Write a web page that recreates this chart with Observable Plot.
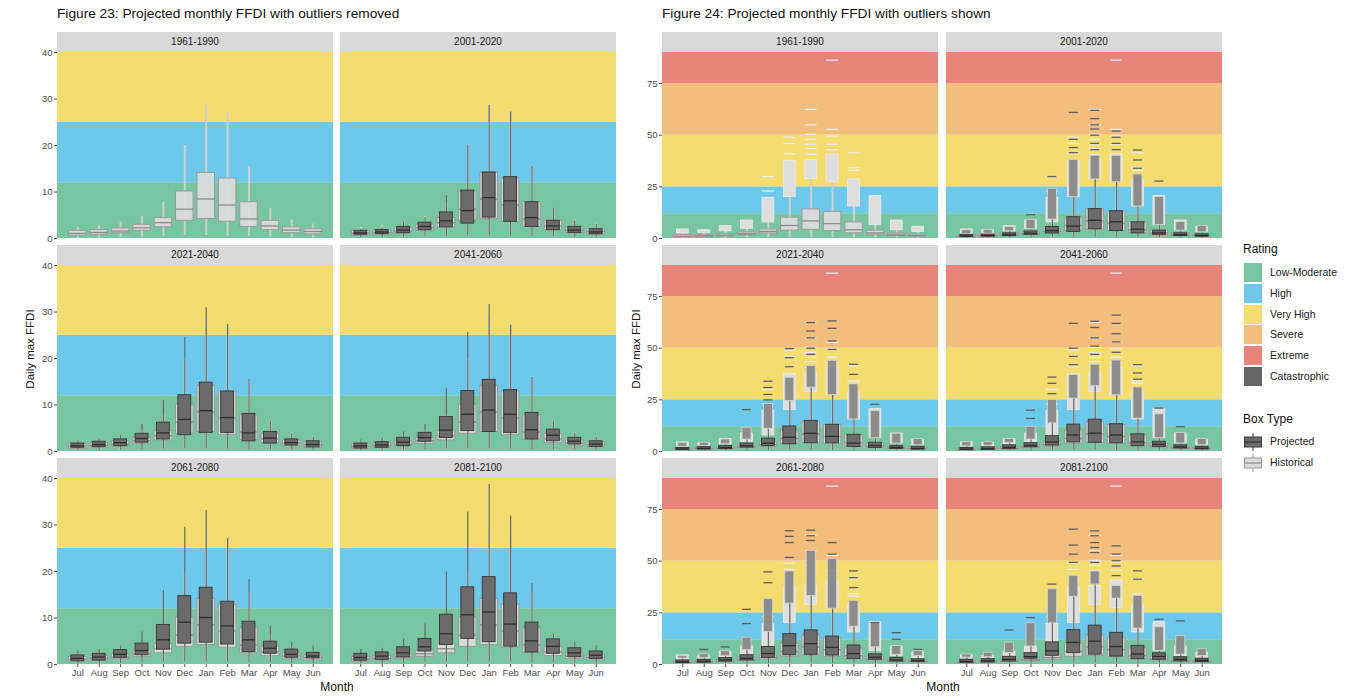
<!DOCTYPE html>
<html><head><meta charset="utf-8">
<script src="https://cdn.jsdelivr.net/npm/d3@7"></script>
<script src="https://cdn.jsdelivr.net/npm/@observablehq/plot@0.6"></script>
<style>
body{margin:0;background:#fff;font-family:"Liberation Sans",Arial,Helvetica,sans-serif;}
#root{position:relative;width:1366px;height:697px;overflow:hidden;background:#fff;}
.strip{position:absolute;background:#d9d9d9;height:20px;line-height:20px;text-align:center;font-size:10px;color:#1a1a1a;}
.title{position:absolute;font-size:13.7px;color:#111;white-space:nowrap;}
.ytitle{position:absolute;width:200px;text-align:center;font-size:11.5px;color:#111;transform:rotate(-90deg);white-space:nowrap;}
.xtitle{position:absolute;width:100px;text-align:center;font-size:12px;color:#111;}
.lg{position:absolute;font-size:10.5px;color:#1a1a1a;white-space:nowrap;}
.lgt{position:absolute;font-size:12px;color:#111;white-space:nowrap;}
</style></head>
<body><div id="root"></div>
<script>
// ---------- data ----------
const months = ["Jul","Aug","Sep","Oct","Nov","Dec","Jan","Feb","Mar","Apr","May","Jun"];
const periods = ["1961-1990","2001-2020","2021-2040","2041-2060","2061-2080","2081-2100"];
const projPeriods = ["2001-2020","2021-2040","2041-2060","2061-2080","2081-2100"];

const ratings = ["Low-Moderate","High","Very High","Severe","Extreme","Catastrophic"];
const ratingLo = [0, 12, 25, 50, 75, 100];
const ratingHi = [12, 25, 50, 75, 100, 200];
const ratingColors = ["#78c6a1","#6dc8ea","#f5dc6e","#f2be7e","#e8847a","#666666"];

// Historical (1961-1990) box statistics, by month
const histLo  = [0.1, 0.1, 0.2, 0.3, 0.5, 0.6, 0.6, 0.5, 0.4, 0.3, 0.2, 0.1];
const histQ1  = [0.6, 0.8, 1.15, 1.65, 2.4, 3.8, 4.2, 3.6, 2.5, 1.8, 1.15, 0.9];
const histMed = [1.1, 1.3, 1.6, 2.3, 3.4, 6.3, 8.5, 7.2, 4.2, 2.7, 1.8, 1.5];
const histQ3  = [1.65, 1.8, 2.15, 2.95, 4.4, 10.1, 14.1, 12.9, 7.8, 3.8, 2.4, 2.0];
const histHi  = [2.4, 2.7, 3.5, 4.7, 7.8, 20, 28.8, 27.3, 15.5, 6.5, 4, 3.1];
// Historical outliers: densely packed up to this value, then sparse values
const histDenseTop = [4.4, 4, 6, 8.7, 19.7, 37.5, 38, 40.7, 28.6, 20.5, 8.7, 5.7];
const histSparse = [[], [], [], [], [23, 30], [41, 46, 49], [40.7, 43.5, 45.6, 48, 50.4, 55, 62.5],
  [43, 45.6, 49.6, 52.8, 86.3], [33, 34.2, 41.5], [], [], []];

// Projected box statistics, one row per projected period
const projLo = [
  [0.1, 0.1, 0.2, 0.3, 0.5, 0.6, 0.6, 0.5, 0.4, 0.3, 0.2, 0.1],
  [0.1, 0.1, 0.2, 0.3, 0.5, 0.6, 0.6, 0.5, 0.4, 0.3, 0.2, 0.1],
  [0.1, 0.1, 0.2, 0.3, 0.5, 0.6, 0.6, 0.5, 0.4, 0.3, 0.2, 0.1],
  [0.1, 0.1, 0.2, 0.3, 0.5, 0.6, 0.6, 0.5, 0.4, 0.3, 0.2, 0.1],
  [0.1, 0.1, 0.2, 0.3, 0.5, 0.6, 0.6, 0.5, 0.4, 0.3, 0.2, 0.1]];
const projQ1 = [
  [0.8, 0.95, 1.15, 1.8, 2.4, 3.2, 4.5, 3.6, 2.5, 1.8, 1.2, 0.9],
  [0.8, 0.95, 1.15, 1.9, 2.6, 3.5, 4.0, 4.0, 2.2, 1.7, 1.3, 0.9],
  [0.65, 0.8, 1.15, 2.1, 2.9, 4.4, 4.2, 4.0, 2.6, 2.2, 1.5, 1.0],
  [0.7, 0.85, 1.45, 2.0, 3.2, 4.5, 4.7, 4.3, 2.7, 2.3, 1.45, 1.3],
  [0.8, 1.0, 1.55, 2.8, 4.2, 5.5, 4.8, 3.85, 2.6, 2.3, 1.55, 1.2]];
const projMed = [
  [1.2, 1.4, 1.8, 2.6, 3.8, 6.0, 8.8, 8.1, 4.5, 2.7, 1.8, 1.4],
  [1.2, 1.5, 1.9, 2.8, 4.0, 6.9, 8.8, 7.3, 4.0, 2.9, 1.9, 1.5],
  [1.2, 1.4, 2.0, 3.0, 4.6, 8.0, 8.9, 8.0, 4.7, 3.5, 2.2, 1.6],
  [1.3, 1.6, 2.2, 3.0, 5.3, 9.1, 10.1, 8.3, 5.3, 3.5, 2.2, 1.8],
  [1.5, 1.8, 2.5, 3.8, 6.6, 10.7, 11.3, 8.7, 5.1, 3.9, 2.5, 2.0]];
const projQ3 = [
  [1.65, 1.8, 2.5, 3.4, 5.6, 10.3, 14.2, 13.2, 7.8, 3.8, 2.5, 2.0],
  [1.7, 2.1, 2.6, 3.8, 6.2, 12.1, 14.8, 12.9, 8.1, 4.2, 2.6, 2.2],
  [1.7, 2.0, 2.95, 4.0, 7.4, 13.0, 15.4, 13.2, 8.3, 4.7, 2.95, 2.2],
  [1.95, 2.3, 3.1, 4.5, 8.5, 14.7, 16.5, 13.5, 9.2, 4.9, 3.2, 2.5],
  [2.3, 2.6, 3.7, 5.5, 10.7, 16.6, 18.8, 15.3, 9.0, 5.4, 3.5, 2.8]];
const projHi = [
  [2.0, 2.3, 3.5, 4.5, 9.2, 20, 28.6, 27.2, 15.5, 6.5, 3.8, 3.0],
  [2.3, 2.7, 3.5, 5.8, 11, 24.5, 30.9, 27.3, 15.5, 6.4, 3.8, 3.0],
  [2.5, 2.8, 4.2, 5.8, 13.6, 25.6, 31.6, 27.2, 15.9, 6.4, 3.9, 3.0],
  [2.9, 3.2, 4.0, 7.0, 15.8, 29.5, 33.1, 27.0, 18.3, 8.3, 4.7, 4.0],
  [3.3, 3.5, 5.5, 8.7, 19.9, 32.8, 38.7, 31.9, 17.4, 6.6, 4.8, 4.1]];
const projDenseTop = [
  [4, 4.2, 5.5, 9, 24, 38, 40, 40, 31, 20, 8, 6],
  [4.2, 4.2, 5.8, 11.5, 23, 35.7, 41.4, 43.8, 32.5, 19.5, 8.6, 6],
  [4.5, 4.5, 6, 12, 25, 37, 42, 44, 31, 18, 9, 6],
  [4.1, 5, 6.5, 13, 31.6, 45, 55, 51, 30.8, 20, 9, 6.5],
  [4.9, 5.7, 10.6, 20, 36.4, 42.9, 45, 38, 33.2, 18, 13.8, 7.4]];
const projSparse = [
  [[], [], [], [11.5], [30], [41.5, 44, 48, 61], [43, 46, 50, 53, 55, 58, 62], [43, 46, 49, 52], [34, 38, 42.8], [27.8], [], []],
  [[], [], [], [20.3], [25, 27.6, 31, 34], [41, 45.4, 49.8], [47, 50, 55, 58.3, 62.4], [49.4, 53.5, 59.6, 63.2], [37.3, 42.2], [22.8], [], []],
  [[], [], [], [16, 20], [28, 33, 36], [42, 46, 50, 62], [47, 51, 55, 60, 63], [48, 53, 57, 62, 66], [35, 38, 42], [21], [12], []],
  [[], [7.3], [8.5], [19.8, 26.7], [39.6, 44.8], [51.8, 59, 62, 64.7], [60, 62.3, 65], [53.4, 59], [37.2, 42, 45.3], [20.3], [12.2, 15.4], [7.3]],
  [[], [], [16.7], [22.7], [38.9], [49.4, 53.4, 57.8, 65.5], [49.4, 54.2, 56.6, 59, 62.3, 64.7], [43, 47.7, 50.2, 53.4, 57.4], [41.3, 45.3], [21.9], [21.1], []]];

const leftTicks = [0, 10, 20, 30, 40];
const rightTicks = [0, 25, 50, 75];

// ---------- helpers ----------
const root = document.getElementById("root");
function place(el, left, top) {
  el.style.position = "absolute"; el.style.left = left + "px"; el.style.top = top + "px";
  root.appendChild(el); return el;
}
function textDiv(cls, text, left, top, extra) {
  const d = document.createElement("div"); d.className = cls; d.textContent = text;
  if (extra) Object.assign(d.style, extra);
  return place(d, left, top);
}

const bands = ratings.map((r, i) => ({rating: r, lo: ratingLo[i], hi: ratingHi[i]}));
const monthIdx = months.map((m, i) => i + 1);

function rowsFrom(lo, q1, med, q3, hi, top) {
  return months.map((m, i) => ({x: i + 1, lo: lo[i], q1: q1[i], med: med[i], q3: q3[i], hi: hi[i], top: top[i]}));
}
function outsFrom(sparse) {
  return sparse.flatMap((vs, i) => vs.map(v => ({x: i + 1, v})));
}
const histRows = rowsFrom(histLo, histQ1, histMed, histQ3, histHi, histDenseTop);
const histOuts = outsFrom(histSparse);

function boxMarks(rows, outs, o, showOut) {
  const m = [];
  m.push(Plot.ruleX(rows, {x: "x", y1: "lo", y2: "hi", stroke: o.whisker, strokeWidth: o.whiskerW}));
  if (showOut) {
    m.push(Plot.rect(rows, {x1: d => d.x - o.ow / 2, x2: d => d.x + o.ow / 2, y1: "hi", y2: "top",
      fill: o.outFill, stroke: o.outEdge, strokeWidth: 0.8}));
    m.push(Plot.ruleY(outs, {y: "v", x1: d => d.x - o.ow / 2, x2: d => d.x + o.ow / 2, stroke: o.outStroke, strokeWidth: 1.3}));
  }
  m.push(Plot.rect(rows, {x1: d => d.x - o.w / 2, x2: d => d.x + o.w / 2, y1: "q1", y2: "q3",
    fill: o.fill, fillOpacity: o.fillOpacity, stroke: o.stroke, strokeWidth: 1}));
  m.push(Plot.ruleY(rows, {y: "med", x1: d => d.x - o.w / 2, x2: d => d.x + o.w / 2, stroke: o.med, strokeWidth: 1.3}));
  return m;
}
const histStyle = {w: 0.82, ow: 0.55, whisker: "#cfcfcf", whiskerW: 2, fill: "#dcdcdc", fillOpacity: 0.92,
  stroke: "#9a9a9a", med: "#8a8a8a", outFill: "#dedede", outEdge: "#ececec", outStroke: "#ececec"};
const projStyle = {w: 0.6, ow: 0.42, whisker: "#6a6a6a", whiskerW: 1.2, fill: "#6b6b6b", fillOpacity: 1,
  stroke: "#3d3d3d", med: "#2e2e2e", outFill: "#8c8c8c", outEdge: "#d4d4d4", outStroke: "#5e5e5e"};

const colsLeft = [57, 340], colsRight = [662, 946];
const stripTops = [32, 245, 458];
const PW = 276, PH = 186;

function panel(fig, pIndex) {
  const right = fig === 2;
  const row = Math.floor(pIndex / 2), col = pIndex % 2;
  const x0 = (right ? colsRight : colsLeft)[col];
  const st = stripTops[row];
  const showY = col === 0, showX = row === 2;
  const mL = showY ? 26 : 0, mB = showX ? 22 : 0;
  const yMax = right ? 90 : 40;

  textDiv("strip", periods[pIndex], x0, st, {width: PW + "px"});

  const marks = [Plot.rect(bands, {y1: "lo", y2: "hi", fill: "rating", clip: true})];
  marks.push(...boxMarks(histRows, histOuts, histStyle, right));
  if (pIndex > 0) {
    const k = pIndex - 1;
    const pr = rowsFrom(projLo[k], projQ1[k], projMed[k], projQ3[k], projHi[k], projDenseTop[k]);
    marks.push(...boxMarks(pr, outsFrom(projSparse[k]), projStyle, right));
  }
  const svg = Plot.plot({
    width: PW + mL, height: PH + mB,
    marginLeft: mL, marginRight: 0, marginTop: 0, marginBottom: mB,
    style: {background: "transparent", fontSize: "9.5px", fontFamily: "Liberation Sans, Arial, sans-serif", color: "#4d4d4d", overflow: "visible"},
    x: {type: "linear", domain: [0.05, 12.95], ticks: monthIdx, tickFormat: i => months[i - 1],
        tickSize: 3, tickPadding: 2, label: null, axis: showX ? "bottom" : null},
    y: {domain: [0, yMax], ticks: right ? rightTicks : leftTicks, tickSize: 3, tickPadding: 2,
        label: null, axis: showY ? "left" : null},
    color: {type: "ordinal", domain: ratings, range: ratingColors},
    marks
  });
  place(svg, x0 - mL, st + 20);
}

for (let p = 0; p < 6; p++) { panel(1, p); panel(2, p); }

// titles
textDiv("title", "Figure 23: Projected monthly FFDI with outliers removed", 57, 6);
textDiv("title", "Figure 24: Projected monthly FFDI with outliers shown", 662, 6);
textDiv("ytitle", "Daily max FFDI", 30 - 100, 343);
textDiv("ytitle", "Daily max FFDI", 636 - 100, 343);
textDiv("xtitle", "Month", 337 - 50, 680);
textDiv("xtitle", "Month", 943 - 50, 680);

// legend
textDiv("lgt", "Rating", 1243, 242);
ratings.forEach((r, i) => {
  const sw = document.createElement("div");
  Object.assign(sw.style, {width: "18px", height: "19px", background: ratingColors[i]});
  place(sw, 1244, 263 + i * 20.8);
  textDiv("lg", r, 1270, 266 + i * 20.8);
});
textDiv("lgt", "Box Type", 1243, 412);
function keySvg(fill, stroke, whisker, med) {
  const ns = "http://www.w3.org/2000/svg";
  const s = document.createElementNS(ns, "svg");
  s.setAttribute("width", 20); s.setAttribute("height", 20);
  s.innerHTML = `<line x1="10" x2="10" y1="1" y2="19" stroke="${whisker}" stroke-width="1.2"/>` +
    `<rect x="1.5" y="5" width="17" height="10" fill="${fill}" stroke="${stroke}"/>` +
    `<line x1="1.5" x2="18.5" y1="10" y2="10" stroke="${med}" stroke-width="1.2"/>`;
  return s;
}
place(keySvg("#6b6b6b", "#3d3d3d", "#555", "#2e2e2e"), 1243, 432);
textDiv("lg", "Projected", 1270, 435);
place(keySvg("#dcdcdc", "#9a9a9a", "#aaa", "#8a8a8a"), 1243, 453);
textDiv("lg", "Historical", 1270, 456);
</script>
</body></html>
